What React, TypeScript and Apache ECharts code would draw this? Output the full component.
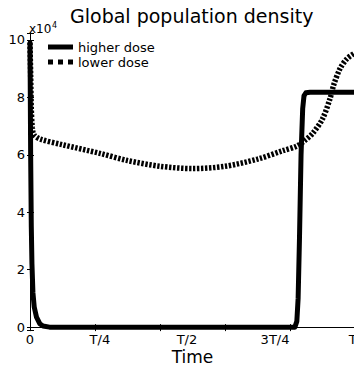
import React, { useEffect, useRef } from 'react';
import * as echarts from 'echarts';

const titleText = 'Global population density';
const seriesNames = ['higher dose', 'lower dose'];
const xAxisName = 'Time';
const xTickLabels = ['0', 'T/4', 'T/2', '3T/4', 'T'];
const xTickPositions = [0, 0.215, 0.483, 0.754, 0.993];

// higher dose (x10^4)
const higherT = [0, 0.002, 0.004, 0.006, 0.009, 0.013, 0.02, 0.03, 0.04, 0.06, 0.3, 0.6, 0.815, 0.821, 0.825, 0.829, 0.834, 0.839, 0.843, 0.849, 0.862, 1.0];
const higherY = [9.9, 6.0, 3.5, 2.2, 1.2, 0.7, 0.35, 0.12, 0.04, 0, 0, 0, 0, 0.2, 1.0, 3.0, 6.0, 7.6, 8.05, 8.16, 8.18, 8.18];

// lower dose (x10^4)
const lowerT = [0, 0.002, 0.004, 0.007, 0.012, 0.03, 0.1, 0.215, 0.3, 0.4, 0.5, 0.6, 0.7, 0.78, 0.82, 0.846, 0.87, 0.9, 0.923, 0.935, 0.954, 0.975, 1.0];
const lowerY = [9.9, 8.8, 7.6, 6.95, 6.7, 6.55, 6.35, 6.05, 5.8, 5.6, 5.52, 5.6, 5.85, 6.15, 6.3, 6.5, 6.75, 7.25, 7.95, 8.45, 9.0, 9.34, 9.55];

const FONT = 'DejaVu Sans';
const SOLID_ICON = 'path://M0,0h25v5h-25z';
const DOTTED_ICON = 'path://M0,0h5v5h-5z M10,0h5v5h-5z M20,0h5v5h-5z';

export default function App() {
  const ref = useRef<HTMLDivElement>(null);
  useEffect(() => {
    const chart = echarts.init(ref.current!, null, { renderer: 'svg' });
    const axisLine = { show: true, lineStyle: { color: '#000', width: 1 } };
    const yFormatter = (v: number) => {
      const r = Math.round(v);
      return Math.abs(v - r) < 1e-6 && r % 2 === 0 ? String(r) : '';
    };
    const option: any = {
      animation: false,
      backgroundColor: '#fff',
      title: {
        text: titleText,
        left: 70,
        top: 6,
        padding: 0,
        textStyle: { fontFamily: FONT, fontSize: 19, fontWeight: 'normal', color: '#000' },
      },
      legend: {
        orient: 'vertical',
        left: 48,
        top: 40,
        padding: 0,
        itemWidth: 25,
        itemHeight: 5,
        itemGap: 1,
        textStyle: { fontFamily: FONT, fontSize: 13, color: '#000', lineHeight: 14 },
        data: [
          { name: seriesNames[0], icon: SOLID_ICON, itemStyle: { color: '#000' } },
          { name: seriesNames[1], icon: DOTTED_ICON, itemStyle: { color: '#000' } },
        ],
      },
      grid: { left: 30, top: 33, width: 325, height: 297, outerBoundsMode: 'none', containLabel: false },
      xAxis: [
        {
          type: 'value', min: 0, max: 1, interval: 0.2, position: 'bottom',
          axisLine, axisTick: { show: true, inside: true, length: 3, lineStyle: { color: '#000' } },
          axisLabel: { show: false }, splitLine: { show: false },
          name: xAxisName, nameLocation: 'middle', nameGap: 19,
          nameTextStyle: { fontFamily: FONT, fontSize: 17, color: '#000', lineHeight: 15 },
        },
        {
          type: 'value', min: 0, max: 1, interval: 0.2, position: 'top',
          axisLine, axisTick: { show: true, inside: true, length: 4, lineStyle: { color: '#000' } },
          axisLabel: { show: false }, splitLine: { show: false },
        },
      ],
      yAxis: [
        {
          type: 'value', min: -0.1, max: 10.24, splitNumber: 5, position: 'left',
          axisLine, axisTick: { show: true, inside: true, length: 4, lineStyle: { color: '#000' } },
          axisLabel: { show: true, margin: 5, fontFamily: FONT, fontSize: 13, color: '#000', formatter: yFormatter },
          splitLine: { show: false },
        },
        {
          type: 'value', min: -0.1, max: 10.24, splitNumber: 5, position: 'right',
          axisLine, axisTick: { show: true, inside: true, length: 3, lineStyle: { color: '#000' } },
          axisLabel: { show: false }, splitLine: { show: false },
        },
      ],
      series: [
        {
          name: seriesNames[0], type: 'line', xAxisIndex: 0, yAxisIndex: 0,
          data: higherT.map((t, i) => [t, higherY[i]]),
          symbol: 'none', showSymbol: false,
          lineStyle: { color: '#000', width: 5, join: 'round', cap: 'round' },
          itemStyle: { color: '#000' },
        },
        {
          name: seriesNames[1], type: 'line', xAxisIndex: 0, yAxisIndex: 0,
          data: lowerT.map((t, i) => [t, lowerY[i]]),
          symbol: 'none', showSymbol: false, smooth: 0.3,
          lineStyle: { color: '#000', width: 5.5, type: [2.4, 1.6] },
          itemStyle: { color: '#000' },
        },
      ],
    };
    chart.setOption(option);

    const yBase = chart.convertToPixel({ yAxisIndex: 0 }, -0.1) as number;
    const xLeft = chart.convertToPixel({ xAxisIndex: 0 }, 0) as number;
    const yTop = chart.convertToPixel({ yAxisIndex: 0 }, 10.24) as number;
    const graphics: any[] = xTickLabels.map((lab, i) => ({
      type: 'text',
      id: 'xl' + i,
      x: chart.convertToPixel({ xAxisIndex: 0 }, xTickPositions[i]) as number,
      y: yBase + 9,
      style: { text: lab, fontFamily: FONT, fontSize: 13, lineHeight: 12, fill: '#000', align: 'center', verticalAlign: 'middle' },
    }));
    graphics.push({
      type: 'text', id: 'mult', x: xLeft - 1, y: yTop - 4,
      style: { text: 'x10', fontFamily: FONT, fontSize: 12, fill: '#000', align: 'left', verticalAlign: 'middle' },
    });
    graphics.push({
      type: 'text', id: 'exp', x: xLeft + 22, y: yTop - 8,
      style: { text: '4', fontFamily: FONT, fontSize: 8, fill: '#000', align: 'left', verticalAlign: 'middle' },
    });
    chart.setOption({ graphic: graphics });

    return () => chart.dispose();
  }, []);
  return <div ref={ref} style={{ position: 'fixed', left: 0, top: 0, width: 354, height: 365 }} />;
}
